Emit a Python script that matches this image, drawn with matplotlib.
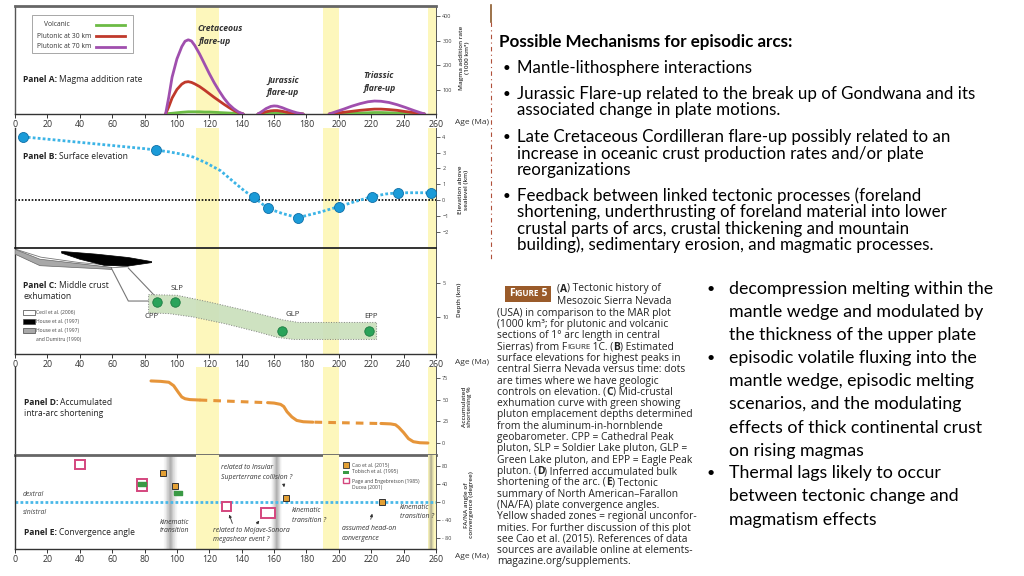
import matplotlib
matplotlib.use("Agg")
import matplotlib.pyplot as plt
from matplotlib.lines import Line2D
from matplotlib.patches import Rectangle, Polygon, FancyArrowPatch
import numpy as np

plt.rcParams['font.family'] = ['Open Sans', 'DejaVu Sans']

# ---------------------------------------------------------------- data
age_ticks = [0, 20, 40, 60, 80, 100, 120, 140, 160, 180, 200, 220, 240, 260]
unconformities = [(112, 126), (190, 200), (255, 260)]
kinematic_transitions = [(96.0, 4.5), (161.6, 3.5), (257.0, 2.0)]

# Panel A: magma addition rate (1000 km3)
mar_age_k = [93, 95, 97, 100, 103, 105, 107, 109, 111, 114, 117, 120, 123, 126, 129, 132, 135, 138, 141]
mar_p70_k = [0, 70, 150, 225, 275, 297, 303, 298, 280, 245, 205, 165, 128, 95, 65, 40, 22, 8, 0]
mar_p30_k = [0, 30, 65, 100, 122, 130, 132, 129, 123, 112, 98, 83, 68, 54, 40, 27, 15, 6, 0]
mar_vol_k = [0, 2, 3, 5, 7, 8, 9, 9, 9, 9, 8, 8, 7, 6, 5, 4, 3, 1, 0]
mar_age_j = [150, 152, 155, 158, 160, 162, 165, 168, 171, 174, 178]
mar_p70_j = [0, 8, 22, 31, 33, 32, 26, 18, 11, 5, 0]
mar_p30_j = [0, 3, 9, 13, 14, 14, 11, 7, 4, 1, 0]
mar_vol_j = [0, 1, 2, 3, 3, 3, 2, 2, 1, 0, 0]
mar_age_t = [194, 198, 203, 208, 213, 218, 222, 226, 231, 236, 241, 246, 250, 253]
mar_p70_t = [0, 9, 20, 32, 42, 50, 53, 52, 47, 38, 27, 15, 6, 0]
mar_p30_t = [0, 3, 7, 11, 15, 18, 20, 20, 18, 15, 10, 6, 2, 0]
mar_vol_t = [0, 1, 2, 3, 4, 5, 6, 6, 5, 4, 3, 2, 1, 0]
mar_ticks = [100, 200, 300, 400]

# Panel B: surface elevation (km)
elev_age = [4.8, 87.1, 147.6, 156.1, 174.6, 199.9, 220.3, 236.8, 256.9]
elev_km = [4.0, 3.16, 0.17, -0.53, -1.12, -0.42, 0.21, 0.46, 0.46]
elev_curve_age = [4.8, 20, 40, 60, 80, 87.1, 95, 102, 110, 118, 127, 135, 142, 147.6,
                  156.1, 165, 174.6, 188, 199.9, 210, 220.3, 229, 236.8, 247, 256.9]
elev_curve_km = [4.0, 3.85, 3.65, 3.45, 3.25, 3.16, 3.05, 2.92, 2.72, 2.35, 1.85, 1.15, 0.55, 0.17,
                 -0.53, -0.85, -1.12, -0.78, -0.42, -0.1, 0.21, 0.38, 0.46, 0.46, 0.46]
elev_ticks = [-2, -1, 0, 1, 2, 3, 4]

# Panel C: middle crust exhumation (depth km)
pluton_names = ['CPP', 'SLP', 'GLP', 'EPP']
pluton_age = [87.7, 99.0, 164.7, 218.4]
pluton_depth = [7.8, 7.8, 12.0, 12.0]
band_top_age = [82.5, 100, 120, 140, 155, 165, 175, 223.3]
band_top_depth = [6.7, 6.8, 7.8, 8.9, 9.8, 10.4, 10.8, 10.8]
band_bot_age = [223.3, 172, 162, 150, 130, 110, 95, 82.5]
band_bot_depth = [13.3, 13.3, 13.0, 12.2, 11.0, 10.0, 9.5, 9.4]
cecil_age = [0, 16, 40, 70, 60, 15, 0]
cecil_depth = [0.0, 1.2, 2.0, 2.6, 2.75, 1.7, 0.3]
house_age = [28.8, 50, 70, 84.4, 84.4, 70, 55, 40, 28.8]
house_depth = [0.35, 0.75, 1.25, 1.85, 2.0, 2.5, 2.4, 1.5, 0.6]
dumitru_age = [0, 15.4, 59.7, 59.7, 15.4, 0]
dumitru_depth = [0.05, 1.5, 2.7, 3.0, 2.45, 0.75]
link1_age = [59.7, 70, 82.5]
link1_depth = [2.9, 7.65, 7.65]
link2_age = [70, 87.6]
link2_depth = [2.8, 7.2]
depth_ticks = [5, 10]

# Panel D: accumulated shortening (%)
short_s1_age = [84, 90, 95, 98, 101, 103, 105, 108, 114]
short_s1_val = [71.5, 71, 70, 66, 58, 53, 51, 50, 49.5]
short_d1_age = [114, 155]
short_d1_val = [49.5, 46.5]
short_s2_age = [156, 160, 164, 166, 168, 171, 174, 178, 184]
short_s2_val = [46.5, 46, 44.5, 42, 36, 30, 26, 24.5, 24]
short_d2_age = [185, 224]
short_d2_val = [24, 22.5]
short_s3_age = [226, 232, 235, 237, 240, 243, 246, 250, 255]
short_s3_val = [22.5, 22, 21, 18, 12, 5, 1.5, 0.3, 0]
short_ticks = [0, 25, 50, 75]

# Panel E: convergence angle (degree)
cao_age = [91.4, 98.7, 167.6, 226.6]
cao_angle = [65, 36, 10, 0.7]
tobisch_age = [78.4, 100.7]
tobisch_angle = [40, 19]
page_age = [40.2, 78.4, 130.6, 156.5]
page_angle = [83, 38, -10, -25]
page_age_half = [2.9, 3.1, 3.0, 4.3]
page_angle_half = [10, 13.7, 9.2, 11]
angle_ticks = [-80, -40, 0, 40, 80]
angle_labels = ['- 80', '- 40', '0', '40', '80']

# ---------------------------------------------------------------- figure
W, H = 1024, 576
fig = plt.figure(figsize=(W / 100, H / 100), dpi=100, facecolor='white')
renderer = fig.canvas.get_renderer()


def fx(px):
    return px / W


def fy(py):
    return 1 - py / H


def prect(x0, y0, x1, y1):
    return [fx(x0), fy(y1), (x1 - x0) / W, (y1 - y0) / H]


def width(text, **kw):
    t = fig.text(0, 0, text, **kw)
    w = t.get_window_extent(renderer).width
    t.remove()
    return w


def adv(text, **kw):
    # advance width including spaces
    return width('|' + text + '|', **kw) - width('||', **kw)


def fit(text, target_px, **kw):
    return 10.0 * target_px / width(text, fontsize=10, **kw)


def ftext(x, y, s, **kw):
    kw.setdefault('va', 'center')
    kw.setdefault('ha', 'left')
    return fig.text(fx(x), fy(y), s, **kw)


def rich(x, y, segs, fontsize, **kw):
    """segs: list of (text, weight, size factor)"""
    cx = x
    for s, w, f in segs:
        ftext(cx, y, s.rstrip(), fontsize=fontsize * f, fontweight=w, **kw)
        cx += adv(s, fontsize=fontsize * f, fontweight=w, **{k: v for k, v in kw.items() if k in ('family', 'fontstyle')})
    return cx


def rich_width(segs, fontsize, **kw):
    return sum(adv(s, fontsize=fontsize * f, fontweight=w, **kw) for s, w, f in segs)


def arrow(x0, y0, x1, y1):
    fig.add_artist(FancyArrowPatch((fx(x0), fy(y0)), (fx(x1), fy(y1)), transform=fig.transFigure,
                                   arrowstyle='-|>', mutation_scale=4, lw=0.6, color='#333333'))


YEL = '#fdf7bc'


def make_axes(y0, y1, ylim, spines, yticks, ylabels=None, xlabels=False):
    ax = fig.add_axes(prect(15, y0, 436, y1))
    ax.set_xlim(0, 260)
    ax.set_ylim(*ylim)
    ax.patch.set_alpha(0)
    for s, sp in ax.spines.items():
        if s in spines:
            col, lw = spines[s]
            sp.set_color(col)
            sp.set_linewidth(lw)
        else:
            sp.set_visible(False)
    ax.yaxis.tick_right()
    ax.set_yticks(yticks)
    if ylabels is not None:
        ax.set_yticklabels(ylabels)
    ax.tick_params(axis='y', direction='out', length=3, width=0.6, labelsize=4,
                   colors='#444444', pad=1.5)
    if xlabels:
        ax.set_xticks(age_ticks)
        ax.set_xticklabels([str(a) for a in age_ticks])
        ax.tick_params(axis='x', direction='out', length=3, width=0.7, labelsize=6.3,
                       colors='#333333', pad=1.2)
    else:
        ax.set_xticks([])
    for lo, hi in unconformities:
        ax.axvspan(lo, hi, color=YEL, zorder=0, lw=0)
    return ax


def panel_label(x, y, bold, rest, size):
    rich(x, y, [(bold + ' ', 'bold', 1.0), (rest, 'normal', 1.0)], size, color='#222222')


# ---------- Panel A
axA = make_axes(6, 114, (0, 441),
                {'left': ('#555555', 1.0), 'top': ('#666666', 2.0),
                 'bottom': ('#333333', 1.0), 'right': ('#555555', 0.7)},
                mar_ticks, xlabels=True)
GREEN, RED, PURPLE = '#6cbb45', '#c0392b', '#a04fae'
for ages, vol, p30, p70 in [(mar_age_k, mar_vol_k, mar_p30_k, mar_p70_k),
                            (mar_age_j, mar_vol_j, mar_p30_j, mar_p70_j),
                            (mar_age_t, mar_vol_t, mar_p30_t, mar_p70_t)]:
    axA.plot(ages, vol, color=GREEN, lw=2, solid_capstyle='round', zorder=3)
    axA.plot(ages, p30, color=RED, lw=2, solid_capstyle='round', zorder=4)
    axA.plot(ages, p70, color=PURPLE, lw=2, solid_capstyle='round', zorder=5)

# legend box
fig.add_artist(Rectangle((fx(32), fy(53)), 101 / W, 38 / H, transform=fig.transFigure,
                         fc='white', ec='#999999', lw=0.6))
lsz = fit('Plutonic at 30 km', 55)
for yy, lab, col, x0 in [(25, 'Volcanic', GREEN, 44), (36, 'Plutonic at 30 km', RED, 37),
                         (46.5, 'Plutonic at 70 km', PURPLE, 37)]:
    ftext(x0, yy, lab, fontsize=lsz, color='#333333')
    fig.add_artist(Line2D([fx(96), fx(125)], [fy(yy), fy(yy)], transform=fig.transFigure,
                          color=col, lw=2))

psz = 10.0 * 120 / rich_width([('Panel A: ', 'bold', 1.0), ('Magma addition rate', 'normal', 1.0)], 10.0)
panel_label(23, 80, 'Panel A:', 'Magma addition rate', psz)
fsz = fit('Cretaceous', 46, fontweight='bold', fontstyle='italic')
for x, y, s in [(219.7, 28.3, 'Cretaceous'), (215, 41.7, 'flare-up'),
                (283.3, 80, 'Jurassic'), (283.3, 92.7, 'flare-up'),
                (378.8, 75, 'Triassic'), (380.5, 88.3, 'flare-up')]:
    ftext(x, y, s, ha='center', fontsize=fsz, fontweight='bold', fontstyle='italic', color='#333333')

# ---------- Panel B
axB = make_axes(128, 247, ((200 - 247) / 15.8, (200 - 128) / 15.8),
                {'left': ('#333333', 1.0), 'right': ('#555555', 0.7)}, elev_ticks)
axB.axhline(0, color='black', lw=1.2, ls=(0, (1, 1)), zorder=2)
axB.plot(elev_curve_age, elev_curve_km, color='#3cb4e6', lw=2.0, ls=(0, (1, 0.8)), zorder=3)
axB.plot(elev_age, elev_km, 'o', ms=7.2, mfc='#1b9bd8', mec='#0f6fa8', mew=0.6, zorder=5)
panel_label(23, 156.7, 'Panel B:', 'Surface elevation', psz)

# ---------- Panel C
axC = make_axes(248, 354, (15.44, -0.15),
                {'left': ('#333333', 1.0), 'top': ('#111111', 1.2),
                 'bottom': ('#333333', 1.0), 'right': ('#555555', 0.7)},
                depth_ticks, xlabels=True)
axC.add_patch(Polygon(list(zip(cecil_age, cecil_depth)), closed=True, fc='white', ec='#777777', lw=0.6, zorder=2))
axC.add_patch(Polygon(list(zip(dumitru_age, dumitru_depth)), closed=True, fc='#a8a8a8', ec='#666666', lw=0.5, zorder=3))
axC.add_patch(Polygon(list(zip(house_age, house_depth)), closed=True, fc='black', ec='black', lw=0.5, zorder=3))
axC.plot(link1_age, link1_depth, color='#777777', lw=0.8, zorder=2)
axC.plot(link2_age, link2_depth, color='#777777', lw=0.8, zorder=2)
axC.add_patch(Polygon(list(zip(band_top_age + band_bot_age, band_top_depth + band_bot_depth)),
                      closed=True, fc='#c9dfbb', ec='#777777', ls=':', lw=0.7, alpha=0.9, zorder=3))
axC.plot(pluton_age, pluton_depth, 'o', ms=6.8, mfc='#2aa35a', mec='#1b7a40', mew=0.6, zorder=5)
for (x, y), nm in zip([(152, 316.7), (176.7, 288), (292.7, 315), (370.7, 317)], pluton_names):
    ftext(x, y, nm, ha='center', fontsize=5.6, color='#333333')
panel_label(23, 285.7, 'Panel C:', 'Middle crust', psz)
ftext(23, 296.7, 'exhumation', fontsize=psz, color='#222222')
for yy, fc in [(312.5, 'white'), (321.5, 'black'), (330.5, '#a8a8a8')]:
    fig.add_artist(Rectangle((fx(23), fy(yy + 2.8)), 11.5 / W, 5.6 / H, transform=fig.transFigure,
                             fc=fc, ec='#444444', lw=0.5))
for yy, s in [(312.7, 'Cecil et al. (2006)'), (321.7, 'House et al. (1997)'),
              (330.3, 'House et al. (1997)'), (339, 'and Dumitru (1990)')]:
    ftext(36, yy, s, fontsize=3.6, color='#444444')

# ---------- Panel D
axD = make_axes(367, 455, ((443 - 455) / 21.7 * 25, (443 - 367) / 21.7 * 25),
                {'left': ('#333333', 1.0), 'bottom': ('#666666', 2.0), 'right': ('#555555', 0.7)},
                short_ticks)
OR = '#e6953a'
for a, v in [(short_s1_age, short_s1_val), (short_s2_age, short_s2_val), (short_s3_age, short_s3_val)]:
    axD.plot(a, v, color=OR, lw=2.2, solid_capstyle='round', zorder=3)
for a, v in [(short_d1_age, short_d1_val), (short_d2_age, short_d2_val)]:
    axD.plot(a, v, color=OR, lw=2.2, ls=(0, (2.5, 2)), zorder=3)
panel_label(23.7, 402.7, 'Panel D:', 'Accumulated', psz)
ftext(23.7, 414, 'intra-arc shortening', fontsize=psz, color='#222222')

# ---------- Panel E
axE = make_axes(455, 549, ((502 - 549) / 18 * 40, (502 - 455) / 18 * 40),
                {'left': ('#333333', 1.0), 'bottom': ('#333333', 1.0), 'right': ('#555555', 0.7)},
                angle_ticks, angle_labels, xlabels=True)
for c, hw in kinematic_transitions:
    n = 24
    edges = np.linspace(c - hw, c + hw, n + 1)
    for i in range(n):
        mid = 0.5 * (edges[i] + edges[i + 1])
        a = 0.55 * (1 - abs(mid - c) / hw) ** 1.3
        axE.axvspan(edges[i], edges[i + 1], color='#6a6a6a', alpha=a, lw=0, zorder=1)
axE.axhline(0, color='#49b8e8', lw=2.0, ls=(0, (1, 0.8)), zorder=2)
for a, g, ha_, hg in zip(page_age, page_angle, page_age_half, page_angle_half):
    axE.add_patch(Rectangle((a - ha_, g - hg), 2 * ha_, 2 * hg, fc='white', ec='#d4467e', lw=1.4, zorder=4))
bar = [(-1, -0.45), (1, -0.45), (1, 0.45), (-1, 0.45), (-1, -0.45)]
axE.plot(tobisch_age, tobisch_angle, ls='none', marker=bar, ms=6, mfc='#3a9a45', mec='#3a9a45', zorder=5)
axE.plot(cao_age, cao_angle, 's', ms=5, mfc='#e3a035', mec='#333333', mew=0.7, zorder=6)
panel_label(23.7, 532.7, 'Panel E:', 'Convergence angle', psz)
isz = fit('related to Mojave-Sonora', 77, fontstyle='italic')
ftext(23, 495, 'dextral', fontsize=isz, fontstyle='italic', color='#444444')
ftext(23, 512, 'sinistral', fontsize=isz, fontstyle='italic', color='#444444')
for x, y, s in [(220.7, 467.3, 'related to Insular'), (220.7, 477.3, 'Superterrane collision ?'),
                (160, 522.7, 'kinematic'), (160, 531, 'transition'),
                (212.7, 531, 'related to Mojave-Sonora'), (212.7, 539.3, 'megashear event ?'),
                (292.3, 511, 'kinematic'), (292.3, 520, 'transition ?'),
                (341.7, 529, 'assumed head-on'), (341.7, 538.3, 'convergence'),
                (400, 507.7, 'kinematic'), (400, 516.7, 'transition ?')]:
    ftext(x, y, s, fontsize=isz, fontstyle='italic', color='#333333')
arrow(283.3, 481.5, 284.5, 490)
arrow(233.3, 526, 228.3, 512)
arrow(255, 526, 261, 518.5)
arrow(370, 522, 373, 511)
# legend E
fig.add_artist(Rectangle((fx(343), fy(467.7)), 6 / W, 5.5 / H, transform=fig.transFigure,
                         fc='#e3a035', ec='#333333', lw=0.6))
fig.add_artist(Rectangle((fx(343), fy(473.5)), 6 / W, 3 / H, transform=fig.transFigure,
                         fc='#3a9a45', ec='none'))
fig.add_artist(Rectangle((fx(343), fy(483.3)), 6 / W, 5 / H, transform=fig.transFigure,
                         fc='white', ec='#d4467e', lw=1.0))
for yy, s in [(465, 'Cao et al. (2015)'), (472, 'Tobisch et al. (1995)'),
              (481, 'Page and Engebretson (1985)'), (487.7, 'Ducea (2001)')]:
    ftext(352, yy, s, fontsize=3.6, color='#444444')

# ---------- axis titles on the right
for x, y, s in [(464, 58, 'Magma addition rate\n(1000 km³)'),
                (463, 190, 'Elevation above\nsealevel (km)'),
                (460, 300, 'Depth (km)'),
                (467, 407, 'Accumulated\nshortening %'),
                (469, 505, 'FA/NA angle of\nconvergence (degree)')]:
    ftext(x, y, s, ha='center', rotation=90, fontsize=4.6, color='#333333', linespacing=1.0,
          fontweight='semibold')
for y in [123, 363, 557]:
    ftext(455, y, 'Age (Ma)', fontsize=6, color='#333333')

# ---------- separator
fig.add_artist(Line2D([fx(491), fx(491)], [fy(5), fy(22)], transform=fig.transFigure,
                      color='#8b5a2b', lw=1.2))
fig.add_artist(Line2D([fx(491), fx(491)], [fy(22), fy(262)], transform=fig.transFigure,
                      color='#b0503a', lw=0.8, ls=(0, (4, 3, 1, 3))))

# ---------- slide text
SF = ['Lato', 'DejaVu Sans']
tsz = fit('Possible Mechanisms for episodic arcs:', 294, family=SF, fontweight='bold')
ftext(499, 41.5, 'Possible Mechanisms for episodic arcs:', family=SF, fontweight='bold',
      fontsize=tsz, color='black')
bsz = fit('Jurassic Flare-up related to the break up of Gondwana and its', 458, family=SF)
bullets1 = [(67.7, ['Mantle-lithosphere interactions']),
            (94, ['Jurassic Flare-up related to the break up of Gondwana and its',
                  'associated change in plate motions.']),
            (137.3, ['Late Cretaceous Cordilleran flare-up possibly related to an',
                     'increase in oceanic crust production rates and/or plate',
                     'reorganizations']),
            (196, ['Feedback between linked tectonic processes (foreland',
                   'shortening, underthrusting of foreland material into lower',
                   'crustal parts of arcs, crustal thickening and mountain',
                   'building), sedimentary erosion, and magmatic processes.'])]
for y0, lines in bullets1:
    ftext(502.5, y0, '•', family=SF, fontsize=bsz * 0.8, color='black')
    for i, ln in enumerate(lines):
        ftext(517, y0 + i * 16.3, ln, family=SF, fontsize=bsz, color='black')

rsz = fit('decompression melting within the', 265, family=SF)
bullets2 = [(289, ['decompression melting within the', 'mantle wedge and modulated by',
                   'the thickness of the upper plate']),
            (358.3, ['episodic volatile fluxing into the', 'mantle wedge, episodic melting',
                     'scenarios, and the modulating', 'effects of thick continental crust',
                     'on rising magmas']),
            (473.3, ['Thermal lags likely to occur', 'between tectonic change and',
                     'magmatism effects'])]
for y0, lines in bullets2:
    ftext(706.5, y0, '•', family=SF, fontsize=rsz * 0.8, color='black')
    for i, ln in enumerate(lines):
        ftext(729, y0 + i * 23.1, ln, family=SF, fontsize=rsz, color='black')

# ---------- figure caption
N, B = 'normal', 'bold'
caption = [[('(', N, 1), ('A', B, 1), (') Tectonic history of', N, 1)],
           [('Mesozoic Sierra Nevada', N, 1)],
           [('(USA) in comparison to the MAR plot', N, 1)],
           [('(1000 km³; for plutonic and volcanic', N, 1)],
           [('sections of 1° arc length in central', N, 1)],
           [('Sierras) from F', N, 1), ('IGURE', N, 0.78), (' 1C. (', N, 1), ('B', B, 1), (') Estimated', N, 1)],
           [('surface elevations for highest peaks in', N, 1)],
           [('central Sierra Nevada versus time: dots', N, 1)],
           [('are times where we have geologic', N, 1)],
           [('controls on elevation. (', N, 1), ('C', B, 1), (') Mid-crustal', N, 1)],
           [('exhumation curve with green showing', N, 1)],
           [('pluton emplacement depths determined', N, 1)],
           [('from the aluminum-in-hornblende', N, 1)],
           [('geobarometer. CPP = Cathedral Peak', N, 1)],
           [('pluton, SLP = Soldier Lake pluton, GLP =', N, 1)],
           [('Green Lake pluton, and EPP = Eagle Peak', N, 1)],
           [('pluton. (', N, 1), ('D', B, 1), (') Inferred accumulated bulk', N, 1)],
           [('shortening of the arc. (', N, 1), ('E', B, 1), (') Tectonic', N, 1)],
           [('summary of North American–Farallon', N, 1)],
           [('(NA/FA) plate convergence angles.', N, 1)],
           [('Yellow shaded zones = regional unconfor-', N, 1)],
           [('mities. For further discussion of this plot', N, 1)],
           [('see Cao et al. (2015). References of data', N, 1)],
           [('sources are available online at elements-', N, 1)],
           [('magazine.org/supplements.', N, 1)]]
csz = fit('(USA) in comparison to the MAR plot', 173)
fig.add_artist(Rectangle((fx(505), fy(302)), 46 / W, 16 / H, transform=fig.transFigure,
                         fc='#9a5b2a', ec='none'))
bw = rich_width([('F', B, 1), ('IGURE', B, 0.78), (' 5', B, 1)], csz)
rich(528 - bw / 2, 294, [('F', B, 1), ('IGURE', B, 0.78), (' 5', B, 1)], csz, color='white')
for i, segs in enumerate(caption):
    if i < 2:
        x, y = 557, 289 + i * 12.0
    else:
        x, y = 497, 313.3 + (i - 2) * 11.3
    rich(x, y, segs, csz, color='#222222')

fig.savefig('out.png', dpi=100, facecolor='white')
